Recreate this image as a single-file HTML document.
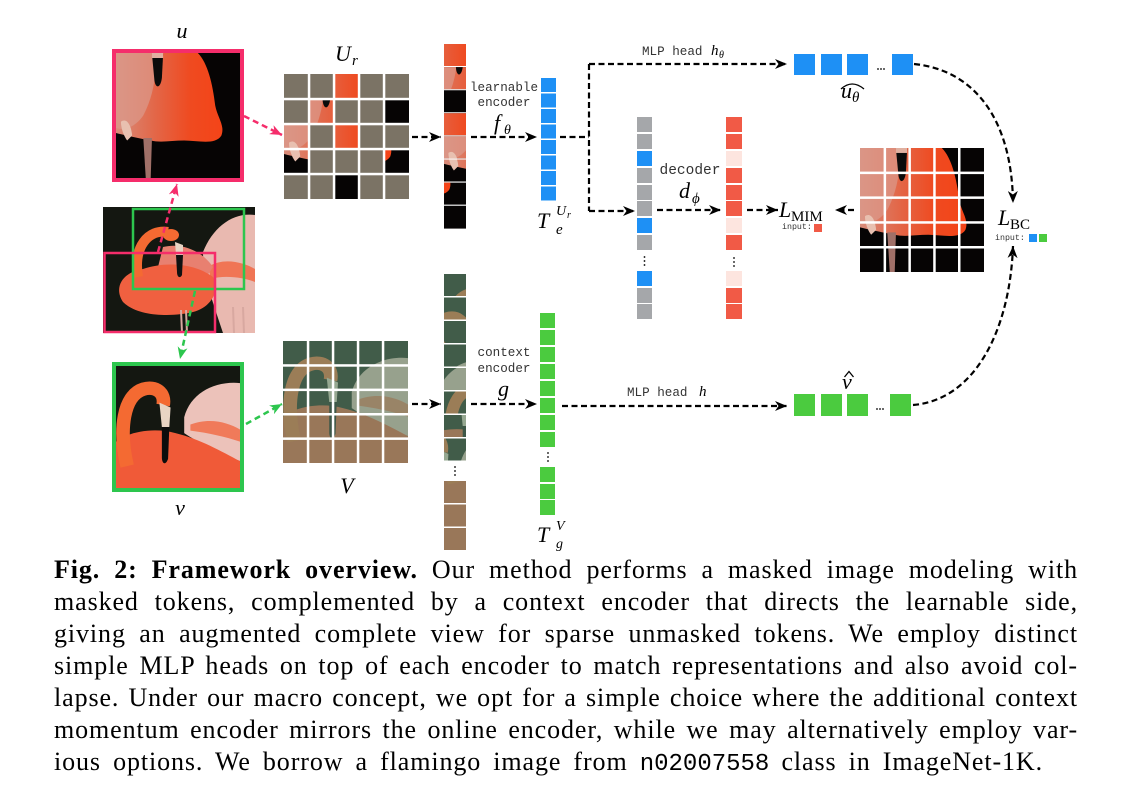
<!DOCTYPE html>
<html><head><meta charset="utf-8">
<style>
html,body{margin:0;padding:0;background:#fff;}
body{width:1131px;height:798px;position:relative;overflow:hidden;}
svg.main{position:absolute;left:0;top:0;}
.cap{position:absolute;left:54px;width:1024px;font-family:"Liberation Serif",serif;font-size:26px;line-height:30px;letter-spacing:0.9px;text-align:justify;text-align-last:justify;color:#000;}
.cap b{font-weight:bold;}
.cap .tt{font-family:"Liberation Mono",monospace;font-size:24px;letter-spacing:0;}
.m{font-family:"Liberation Serif",serif;font-style:italic;}
.r{font-family:"Liberation Serif",serif;}
.t{font-family:"Liberation Mono",monospace;fill:#333;}
.d{fill:none;stroke:#000;stroke-width:2.2;stroke-dasharray:6 3.5;}
</style></head><body>
<svg class="main" width="1131" height="560" viewBox="0 0 1131 560" xmlns="http://www.w3.org/2000/svg">
<defs>
<linearGradient id="ug" x1="0" x2="1" y1="0" y2="0">
<stop offset="0" stop-color="#d88c7a"/><stop offset="0.35" stop-color="#e2684a"/><stop offset="0.7" stop-color="#ef4a20"/><stop offset="1" stop-color="#f44418"/>
</linearGradient>
<g id="uimg">
<rect width="100" height="100" fill="#060404"/>
<path d="M0,0 L66,0 C74,8 78,25 80,42 C82,52 88,58 85,66 C80,74 66,70 55,70 C45,70 36,72 28,70 C18,68 8,66 0,64 Z" fill="url(#ug)"/>
<path d="M0,0 L30,0 C34,15 30,35 22,50 C15,60 6,62 0,60 Z" fill="#dc9a8c" opacity="0.7"/>
<path d="M29,1 L38,1 L37,20 C36,28 32,29 31,22 Z" fill="#0b0b0b"/>
<path d="M29,0 L38,0 L38,4 L29,4 Z" fill="#e0b0a0"/>
<path d="M22,68 L29,68 L28,100 L24,100 Z" fill="#a07068"/>
<path d="M4,55 C8,52 12,56 13,66 L9,70 C6,66 4,60 4,55 Z" fill="#e8c0b0"/>
</g>
<g id="vimg">
<rect width="100" height="100" fill="#141711"/>
<path d="M55,42 C60,22 80,12 100,14 L100,78 C85,72 65,62 55,55 Z" fill="#ecc2ba"/>
<path d="M60,48 C75,42 90,46 100,52 L100,62 C88,58 75,55 60,53 Z" fill="#f07a5a"/>
<path d="M0,100 L0,62 C10,54 30,50 48,55 C68,60 85,70 100,78 L100,100 Z" fill="#f05a38"/>
<path d="M9,82 C2,52 6,24 22,19 C32,16 40,22 38,32" stroke="#f46a32" stroke-width="11" fill="none"/>
<path d="M35,30 L44,34 L43,50 L37,50 Z" fill="#e8d4c4"/>
<path d="M37,50 L43,50 L42,76 C40,82 37,80 37,75 Z" fill="#0c0c0c"/>
</g>
<g id="vimgn">
<use href="#vimg"/>
<rect width="100" height="100" fill="#5f8a70" opacity="0.6"/>
</g>
<marker id="ab" viewBox="0 0 12 10" refX="12" refY="5" markerWidth="12" markerHeight="10" markerUnits="userSpaceOnUse" orient="auto"><path d="M0,0 L12,5 L0,10 L3.5,5 Z" fill="#000"/></marker>
<marker id="ap" viewBox="0 0 12 10" refX="12" refY="5" markerWidth="12" markerHeight="10" markerUnits="userSpaceOnUse" orient="auto"><path d="M0,0 L12,5 L0,10 L3.5,5 Z" fill="#f52d6b"/></marker>
<marker id="ag" viewBox="0 0 12 10" refX="12" refY="5" markerWidth="12" markerHeight="10" markerUnits="userSpaceOnUse" orient="auto"><path d="M0,0 L12,5 L0,10 L3.5,5 Z" fill="#2dc64e"/></marker>
</defs>

<!-- u view -->
<text x="182" y="38" class="m" font-size="22" text-anchor="middle">u</text>
<svg x="116" y="53" width="124" height="125" viewBox="0 0 100 100" preserveAspectRatio="none"><use href="#uimg"/></svg>
<rect x="114" y="51" width="128" height="129" fill="none" stroke="#f52d6b" stroke-width="4"/>

<!-- source image -->
<svg x="103" y="207" width="152" height="126" viewBox="0 0 152 126">
<rect width="152" height="126" fill="#141711"/>
<path d="M100,45 C110,20 130,5 152,8 L152,126 L120,126 C110,95 100,70 100,45 Z" fill="#e9b9b0"/>
<path d="M105,60 C120,50 140,55 152,62 L152,75 C140,70 120,68 108,72 Z" fill="#f07555"/>
<path d="M60,40 C80,35 100,45 110,60 L100,75 C85,65 70,60 55,60 Z" fill="#e88070"/>
<path d="M20,95 C10,80 20,65 40,62 C60,55 90,55 110,70 C118,80 110,100 90,105 C70,110 35,110 20,95 Z" fill="#f06040"/>
<path d="M35,70 C30,40 45,22 65,25" stroke="#f46a32" stroke-width="10" fill="none"/>
<ellipse cx="68" cy="28" rx="8" ry="6" fill="#f46a32"/>
<path d="M72,35 L80,38 L80,48 L73,48 Z" fill="#e8d4c4"/>
<path d="M73,48 L80,48 L79,68 C77,72 74,70 74,65 Z" fill="#111"/>
<path d="M78,103 L79,126 M83,103 L84,126 M130,100 L131,126 M140,100 L141,126" stroke="#d8a8a0" stroke-width="2"/>
</svg>
<rect x="133" y="209" width="111" height="80" fill="none" stroke="#2dc64e" stroke-width="2.5"/>
<rect x="104.5" y="253" width="110.5" height="79" fill="none" stroke="#f52d6b" stroke-width="2.5"/>
<line x1="158" y1="252" x2="177" y2="184" stroke="#f52d6b" stroke-width="2.5" stroke-dasharray="6 4" marker-end="url(#ap)"/>
<line x1="195" y1="291" x2="180" y2="359" stroke="#2dc64e" stroke-width="2.5" stroke-dasharray="6 4" marker-end="url(#ag)"/>

<!-- v view -->
<svg x="116" y="366" width="124" height="122" viewBox="0 0 100 100" preserveAspectRatio="none"><use href="#vimg"/></svg>
<rect x="114" y="364" width="128" height="126" fill="none" stroke="#2dc64e" stroke-width="4"/>
<text x="180" y="515" class="m" font-size="22" text-anchor="middle">v</text>

<line x1="244" y1="116" x2="282" y2="135" stroke="#f52d6b" stroke-width="2.5" stroke-dasharray="6 4" marker-end="url(#ap)"/>
<line x1="246" y1="424" x2="282" y2="404" stroke="#2dc64e" stroke-width="2.5" stroke-dasharray="6 4" marker-end="url(#ag)"/>

<!-- U_r grid -->
<text x="335" y="61" class="m" font-size="22">U</text><text x="352" y="65" class="m" font-size="15">r</text>
<svg x="284" y="74" width="125" height="125" viewBox="0 0 100 100" preserveAspectRatio="none"><use href="#uimg"/></svg>
<g fill="#7b7365">
<rect x="284" y="74" width="25" height="25"/><rect x="309" y="74" width="25" height="25"/><rect x="359" y="74" width="25" height="25"/><rect x="384" y="74" width="25" height="25"/>
<rect x="284" y="99" width="25" height="25"/><rect x="334" y="99" width="25" height="25"/><rect x="359" y="99" width="25" height="25"/>
<rect x="309" y="124" width="25" height="25"/><rect x="359" y="124" width="25" height="25"/><rect x="384" y="124" width="25" height="25"/>
<rect x="309" y="149" width="25" height="25"/><rect x="334" y="149" width="25" height="25"/><rect x="359" y="149" width="25" height="25"/>
<rect x="284" y="174" width="25" height="25"/><rect x="309" y="174" width="25" height="25"/><rect x="359" y="174" width="25" height="25"/><rect x="384" y="174" width="25" height="25"/>
</g>
<g fill="#fff">
<rect x="307.8" y="74" width="2.5" height="125"/><rect x="332.8" y="74" width="2.5" height="125"/><rect x="357.8" y="74" width="2.5" height="125"/><rect x="382.8" y="74" width="2.5" height="125"/>
<rect x="284" y="97.8" width="125" height="2.5"/><rect x="284" y="122.8" width="125" height="2.5"/><rect x="284" y="147.8" width="125" height="2.5"/><rect x="284" y="172.8" width="125" height="2.5"/>
</g>

<!-- V grid -->
<svg x="283" y="341" width="125" height="122" viewBox="0 0 100 100" preserveAspectRatio="none"><use href="#vimgn"/></svg>
<g fill="#fff">
<rect x="306.8" y="341" width="2.5" height="122"/><rect x="331.8" y="341" width="2.5" height="122"/><rect x="356.8" y="341" width="2.5" height="122"/><rect x="381.8" y="341" width="2.5" height="122"/>
<rect x="283" y="364.2" width="125" height="2.5"/><rect x="283" y="388.6" width="125" height="2.5"/><rect x="283" y="413" width="125" height="2.5"/><rect x="283" y="437.4" width="125" height="2.5"/>
</g>
<text x="347" y="493" class="m" font-size="22" text-anchor="middle">V</text>

<!-- U patches column -->
<svg x="444" y="44" width="22" height="22" viewBox="40 0 20 20" preserveAspectRatio="none"><use href="#uimg"/></svg>
<svg x="444" y="67.1" width="22" height="22" viewBox="20 20 20 20" preserveAspectRatio="none"><use href="#uimg"/></svg>
<svg x="444" y="90.2" width="22" height="22" viewBox="80 20 20 20" preserveAspectRatio="none"><use href="#uimg"/></svg>
<svg x="444" y="113.3" width="22" height="22" viewBox="40 40 20 20" preserveAspectRatio="none"><use href="#uimg"/></svg>
<svg x="444" y="136.4" width="22" height="22" viewBox="0 40 20 20" preserveAspectRatio="none"><use href="#uimg"/></svg>
<svg x="444" y="159.5" width="22" height="22" viewBox="0 60 20 20" preserveAspectRatio="none"><use href="#uimg"/></svg>
<svg x="444" y="182.6" width="22" height="22" viewBox="80 60 20 20" preserveAspectRatio="none"><use href="#uimg"/></svg>
<svg x="444" y="205.7" width="22" height="23" viewBox="40 80 20 20" preserveAspectRatio="none"><use href="#uimg"/></svg>

<!-- V patches column -->
<svg x="444" y="274" width="22" height="22" viewBox="0 0 20 20" preserveAspectRatio="none"><use href="#vimgn"/></svg>
<svg x="444" y="297.5" width="22" height="22" viewBox="20 0 20 20" preserveAspectRatio="none"><use href="#vimgn"/></svg>
<svg x="444" y="321" width="22" height="22" viewBox="40 0 20 20" preserveAspectRatio="none"><use href="#vimgn"/></svg>
<svg x="444" y="344.5" width="22" height="22" viewBox="60 0 20 20" preserveAspectRatio="none"><use href="#vimgn"/></svg>
<svg x="444" y="368" width="22" height="22" viewBox="60 20 20 20" preserveAspectRatio="none"><use href="#vimgn"/></svg>
<svg x="444" y="391.5" width="22" height="22" viewBox="0 20 20 20" preserveAspectRatio="none"><use href="#vimgn"/></svg>
<svg x="444" y="415" width="22" height="22" viewBox="20 40 20 20" preserveAspectRatio="none"><use href="#vimgn"/></svg>
<svg x="444" y="438.5" width="22" height="22" viewBox="40 20 20 20" preserveAspectRatio="none"><use href="#vimgn"/></svg>
<g fill="#000"><circle cx="455" cy="467" r="0.9"/><circle cx="455" cy="471" r="0.9"/><circle cx="455" cy="475" r="0.9"/></g>
<svg x="444" y="481" width="22" height="22" viewBox="0 80 20 20" preserveAspectRatio="none"><use href="#vimgn"/></svg>
<svg x="444" y="504.5" width="22" height="22" viewBox="60 80 20 20" preserveAspectRatio="none"><use href="#vimgn"/></svg>
<svg x="444" y="528" width="22" height="22" viewBox="20 80 20 20" preserveAspectRatio="none"><use href="#vimgn"/></svg>

<!-- connectors -->
<path class="d" d="M412,137 H441" marker-end="url(#ab)"/>
<path class="d" d="M412,404 H441" marker-end="url(#ab)"/>
<path class="d" d="M471,137 H537" marker-end="url(#ab)"/>
<path class="d" d="M471,404 H537" marker-end="url(#ab)"/>
<path class="d" d="M560,137 H589"/>
<path class="d" d="M589,64 V211"/>
<path class="d" d="M589,64 H787" marker-end="url(#ab)"/>
<path class="d" d="M589,211 H635" marker-end="url(#ab)"/>
<path class="d" d="M657,210 H721" marker-end="url(#ab)"/>
<path class="d" d="M747,210 H778" marker-end="url(#ab)"/>
<path class="d" d="M854,210 H835" marker-end="url(#ab)"/>
<path class="d" d="M562,406 H787" marker-end="url(#ab)"/>
<path class="d" d="M914,64 C975,70 1012,120 1013,203" marker-end="url(#ab)"/>
<path class="d" d="M913,405 C975,400 1010,330 1013,246" marker-end="url(#ab)"/>

<!-- encoder labels -->
<text x="504" y="91" class="t" font-size="12.6" text-anchor="middle">learnable</text>
<text x="504" y="106" class="t" font-size="12.6" text-anchor="middle">encoder</text>
<text x="494" y="130" class="m" font-size="22">f</text><text x="504" y="134" class="m" font-size="14">θ</text>
<text x="504" y="356" class="t" font-size="12.6" text-anchor="middle">context</text>
<text x="504" y="372" class="t" font-size="12.6" text-anchor="middle">encoder</text>
<text x="498" y="396" class="m" font-size="22">g</text>

<!-- blue column -->
<g fill="#1e90f5">
<rect x="541" y="78" width="15" height="14"/><rect x="541" y="93.5" width="15" height="14"/><rect x="541" y="109" width="15" height="14"/><rect x="541" y="124.5" width="15" height="14"/>
<rect x="541" y="140" width="15" height="14"/><rect x="541" y="155.5" width="15" height="14"/><rect x="541" y="171" width="15" height="14"/><rect x="541" y="186.5" width="15" height="14"/>
</g>
<text x="537" y="228" class="m" font-size="22">T</text>
<text x="556" y="215" class="m" font-size="14">U</text><text x="567" y="218" class="m" font-size="10">r</text>
<text x="556" y="234" class="m" font-size="15">e</text>

<!-- green column -->
<g fill="#4bcb3f">
<rect x="540" y="313" width="15" height="15"/><rect x="540" y="330" width="15" height="15"/><rect x="540" y="347" width="15" height="15"/><rect x="540" y="364" width="15" height="15"/>
<rect x="540" y="381" width="15" height="15"/><rect x="540" y="398" width="15" height="15"/><rect x="540" y="415" width="15" height="15"/><rect x="540" y="432" width="15" height="15"/>
<rect x="540" y="467" width="15" height="15"/><rect x="540" y="484" width="15" height="15"/><rect x="540" y="500" width="15" height="15"/>
</g>
<g fill="#000"><circle cx="548" cy="453" r="0.9"/><circle cx="548" cy="457" r="0.9"/><circle cx="548" cy="461" r="0.9"/></g>
<text x="537" y="542" class="m" font-size="22">T</text>
<text x="556" y="530" class="m" font-size="14">V</text>
<text x="556" y="548" class="m" font-size="14">g</text>

<!-- MLP heads -->
<text x="642" y="55" class="t" font-size="12.6">MLP head</text>
<text x="711" y="55" class="m" font-size="15">h</text><text x="719" y="58" class="m" font-size="10">θ</text>
<text x="627" y="396" class="t" font-size="12.6">MLP head</text>
<text x="699" y="396" class="m" font-size="15">h</text>

<!-- u_theta row -->
<g fill="#1e90f5">
<rect x="794" y="54" width="21" height="21"/><rect x="821" y="54" width="21" height="21"/><rect x="847" y="54" width="21" height="21"/><rect x="892" y="54" width="21" height="21"/>
</g>
<g fill="#000"><circle cx="878" cy="69" r="0.9"/><circle cx="881" cy="69" r="0.9"/><circle cx="884" cy="69" r="0.9"/></g>
<text x="841" y="98" class="m" font-size="22">u</text><text x="852" y="102" class="m" font-size="15">θ</text>
<path d="M841,89 Q852,79 864,89" fill="none" stroke="#000" stroke-width="1.3"/>

<!-- v hat row -->
<g fill="#4bcb3f">
<rect x="794" y="394" width="21" height="22"/><rect x="821" y="394" width="21" height="22"/><rect x="847" y="394" width="21" height="22"/><rect x="890" y="394" width="21" height="22"/>
</g>
<g fill="#000"><circle cx="877" cy="409" r="0.9"/><circle cx="880" cy="409" r="0.9"/><circle cx="883" cy="409" r="0.9"/></g>
<text x="842" y="389" class="m" font-size="22">v</text>
<path d="M844.5,377 L849,371.5 L853.5,377" fill="none" stroke="#000" stroke-width="1.3"/>

<!-- gray column -->
<g fill="#a5a7aa">
<rect x="637" y="117" width="15" height="15"/><rect x="637" y="134" width="15" height="15"/>
<rect x="637" y="168" width="15" height="15"/><rect x="637" y="185" width="15" height="15"/><rect x="637" y="201" width="15" height="15"/>
<rect x="637" y="235" width="15" height="15"/>
<rect x="637" y="288" width="15" height="15"/><rect x="637" y="304" width="15" height="15"/>
</g>
<g fill="#1e90f5">
<rect x="637" y="151" width="15" height="15"/><rect x="637" y="218" width="15" height="15"/><rect x="637" y="271" width="15" height="15"/>
</g>
<g fill="#000"><circle cx="644.5" cy="257" r="0.9"/><circle cx="644.5" cy="261" r="0.9"/><circle cx="644.5" cy="265" r="0.9"/></g>

<!-- decoder -->
<text x="690" y="174" class="t" font-size="14.5" text-anchor="middle">decoder</text>
<text x="679" y="198" class="m" font-size="22">d</text><text x="692" y="203" class="m" font-size="15">ϕ</text>

<!-- red column -->
<g fill="#f15a46">
<rect x="726" y="117" width="16" height="15"/><rect x="726" y="134" width="16" height="15"/>
<rect x="726" y="168" width="16" height="15"/><rect x="726" y="185" width="16" height="15"/><rect x="726" y="201" width="16" height="15"/>
<rect x="726" y="235" width="16" height="15"/>
<rect x="726" y="288" width="16" height="15"/><rect x="726" y="304" width="16" height="15"/>
</g>
<g fill="#fde5df">
<rect x="726" y="151" width="16" height="15"/><rect x="726" y="218" width="16" height="15"/><rect x="726" y="271" width="16" height="15"/>
</g>
<g fill="#000"><circle cx="734" cy="258" r="0.9"/><circle cx="734" cy="262" r="0.9"/><circle cx="734" cy="266" r="0.9"/></g>

<!-- L_MIM -->
<text x="779" y="217" class="m" font-size="22">L</text><text x="791" y="221" class="r" font-size="15">MIM</text>
<text x="782" y="229" class="t" font-size="8.3">input:</text>
<rect x="814" y="224" width="8" height="8" fill="#f15a46"/>

<!-- target grid -->
<svg x="860" y="148" width="124" height="124" viewBox="0 0 100 100" preserveAspectRatio="none"><use href="#uimg"/></svg>
<g fill="#fff">
<rect x="883.6" y="148" width="2.5" height="124"/><rect x="908.4" y="148" width="2.5" height="124"/><rect x="933.2" y="148" width="2.5" height="124"/><rect x="958" y="148" width="2.5" height="124"/>
<rect x="860" y="171.6" width="124" height="2.5"/><rect x="860" y="196.4" width="124" height="2.5"/><rect x="860" y="221.2" width="124" height="2.5"/><rect x="860" y="246" width="124" height="2.5"/>
</g>

<!-- L_BC -->
<text x="998" y="225" class="m" font-size="22">L</text><text x="1010" y="229" class="r" font-size="15">BC</text>
<text x="995" y="240" class="t" font-size="8.3">input:</text>
<rect x="1029" y="234" width="8" height="8" fill="#1e90f5"/>
<rect x="1039" y="234" width="8" height="8" fill="#4bcb3f"/>
</svg>

<div class="cap" style="top:555.2px"><b>Fig. 2: Framework overview.</b> Our method performs a masked image modeling with</div>
<div class="cap" style="top:587.1px">masked tokens, complemented by a context encoder that directs the learnable side,</div>
<div class="cap" style="top:619px">giving an augmented complete view for sparse unmasked tokens. We employ distinct</div>
<div class="cap" style="top:650.9px">simple MLP heads on top of each encoder to match representations and also avoid col-</div>
<div class="cap" style="top:682.8px">lapse. Under our macro concept, we opt for a simple choice where the additional context</div>
<div class="cap" style="top:714.7px">momentum encoder mirrors the online encoder, while we may alternatively employ var-</div>
<div class="cap" style="top:746.6px;width:989px">ious options. We borrow a flamingo image from <span class="tt">n02007558</span> class in ImageNet-1K.</div>
</body></html>
